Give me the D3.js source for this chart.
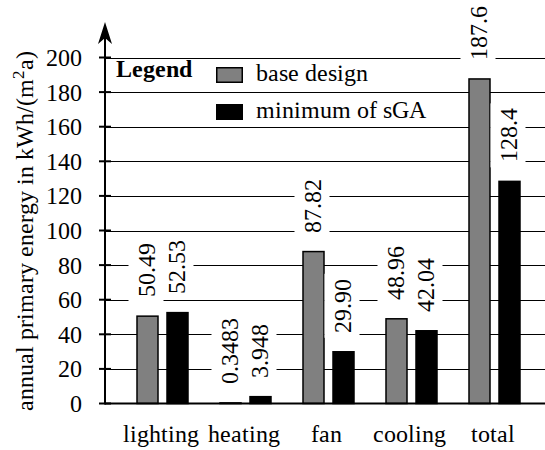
<!DOCTYPE html>
<html>
<head>
<meta charset="utf-8">
<script src="https://cdn.jsdelivr.net/npm/d3@7/dist/d3.min.js"></script>
<style>
@font-face { font-family: 'ChartSerif'; src: local('Liberation Serif'), local('LiberationSerif'), local('LiberationSerif-Regular'), local('Tinos'), local('Times New Roman'); font-weight: normal; }
@font-face { font-family: 'ChartSerif'; src: local('Liberation Serif Bold'), local('LiberationSerif-Bold'), local('Tinos Bold'), local('Times New Roman Bold'); font-weight: bold; }
#chart text, #chart tspan { font-family: 'ChartSerif', 'Liberation Serif', Times, serif; }
</style>
</head>
<body style="margin:0">
<svg id="chart" width="545" height="450"></svg>
<script>
const categories = ["lighting", "heating", "fan", "cooling", "total"];
const seriesNames = ["base design", "minimum of sGA"];
const baseDesign = [50.49, 0.3483, 87.82, 48.96, 187.6];
const minimumSGA = [52.53, 3.948, 29.90, 42.04, 128.4];
const baseLabels = ["50.49", "0.3483", "87.82", "48.96", "187.6"];
const minLabels = ["52.53", "3.948", "29.90", "42.04", "128.4"];
const yTicks = [0, 20, 40, 60, 80, 100, 120, 140, 160, 180, 200];
const seriesColors = ["#808080", "#000000"];

const FONT = "'ChartSerif', 'Liberation Serif', Times, serif";
const svg = d3.select("#chart");
const W = 545;
const axisX = 105;

const x = d3.scaleBand().domain(categories).range([121, 536]).padding(0);
const xi = d3.scaleBand().domain(seriesNames).range([-25.5, 25.5]).paddingInner(0.3).paddingOuter(0);
const y = d3.scaleLinear().domain([0, 200]).range([403.5, 57.5]);

function txt(sel) {
  return sel.attr("font-family", FONT).attr("font-size", 24);
}

function draw() {
  svg.selectAll("*").remove();

  svg.append("g").selectAll("line").data(yTicks.filter(d => d > 0)).join("line")
    .attr("x1", axisX).attr("x2", W)
    .attr("y1", d => Math.round(y(d)) + 0.5).attr("y2", d => Math.round(y(d)) + 0.5)
    .attr("stroke", "#000").attr("stroke-width", 1);

  const rows = categories.map((c, i) => ({
    cat: c,
    vals: [
      {s: seriesNames[0], v: baseDesign[i], lab: baseLabels[i], col: seriesColors[0]},
      {s: seriesNames[1], v: minimumSGA[i], lab: minLabels[i], col: seriesColors[1]}
    ]
  }));

  const groups = svg.append("g").selectAll("g").data(rows).join("g")
    .attr("transform", d => `translate(${x(d.cat) + x.bandwidth() / 2},0)`);

  groups.selectAll("rect.bar").data(d => d.vals).join("rect")
    .attr("class", "bar")
    .attr("x", d => xi(d.s))
    .attr("width", xi.bandwidth())
    .attr("y", d => y(d.v))
    .attr("height", d => y(0) - y(d.v))
    .attr("fill", d => d.col)
    .attr("stroke", "#000")
    .attr("stroke-width", 1.5);

  const labG = groups.selectAll("g.lab").data(d => d.vals).join("g")
    .attr("class", "lab")
    .attr("transform", d => `translate(${xi(d.s) + xi.bandwidth() / 2 + 7},${y(d.v) - 19}) rotate(-90)`);
  labG.append("rect").attr("class", "bg").attr("fill", "#fff");
  txt(labG.append("text")).attr("x", 0).attr("y", 0).text(d => d.lab);
  labG.each(function() {
    const g = d3.select(this);
    const len = g.select("text").node().getComputedTextLength();
    g.select("rect.bg")
      .attr("x", -5).attr("width", len + 10)
      .attr("y", -26).attr("height", 35);
  });

  txt(svg.append("g").selectAll("text").data(categories).join("text"))
    .attr("x", d => x(d) + x.bandwidth() / 2 - 2)
    .attr("y", 442)
    .attr("text-anchor", "middle")
    .text(d => d);

  svg.append("line").attr("x1", axisX).attr("x2", W)
    .attr("y1", y(0)).attr("y2", y(0))
    .attr("stroke", "#000").attr("stroke-width", 2);

  svg.append("line").attr("x1", axisX).attr("x2", axisX)
    .attr("y1", y(0) + 1).attr("y2", 32)
    .attr("stroke", "#000").attr("stroke-width", 2);
  svg.append("path")
    .attr("d", `M${axisX},22 L${axisX + 7},44 L${axisX},38 L${axisX - 7},44 Z`)
    .attr("fill", "#000");

  svg.append("g").selectAll("line").data(yTicks).join("line")
    .attr("x1", axisX - 6).attr("x2", axisX + 6)
    .attr("y1", d => y(d)).attr("y2", d => y(d))
    .attr("stroke", "#000").attr("stroke-width", 2);

  txt(svg.append("g").selectAll("text").data(yTicks).join("text"))
    .attr("x", 82)
    .attr("y", d => y(d))
    .attr("dy", "0.35em")
    .attr("text-anchor", "end")
    .text(d => d);

  const yt = txt(svg.append("text"))
    .attr("transform", "translate(33,231) rotate(-90)")
    .attr("text-anchor", "middle");
  yt.append("tspan").text("annual primary energy in kWh/(m");
  yt.append("tspan").attr("dy", -9).attr("font-size", 17).text("2");
  yt.append("tspan").attr("dy", 9).text("a)");

  txt(svg.append("text")).attr("x", 116).attr("y", 77)
    .attr("font-weight", "bold").text("Legend");
  const leg = svg.append("g").selectAll("g").data(seriesNames).join("g")
    .attr("transform", (d, i) => `translate(0,${i * 37})`);
  leg.append("rect")
    .attr("x", 216.75).attr("y", 67.75).attr("width", 25.5).attr("height", 14.5)
    .attr("fill", (d, i) => seriesColors[i])
    .attr("stroke", "#000").attr("stroke-width", 1.5);
  txt(leg.append("text"))
    .attr("x", 256).attr("y", 81)
    .text(d => d);
}

draw();
if (document.fonts && document.fonts.load) {
  Promise.all([
    document.fonts.load("24px ChartSerif"),
    document.fonts.load("bold 24px ChartSerif")
  ]).then(draw).catch(() => {});
}
</script>
</body>
</html>
